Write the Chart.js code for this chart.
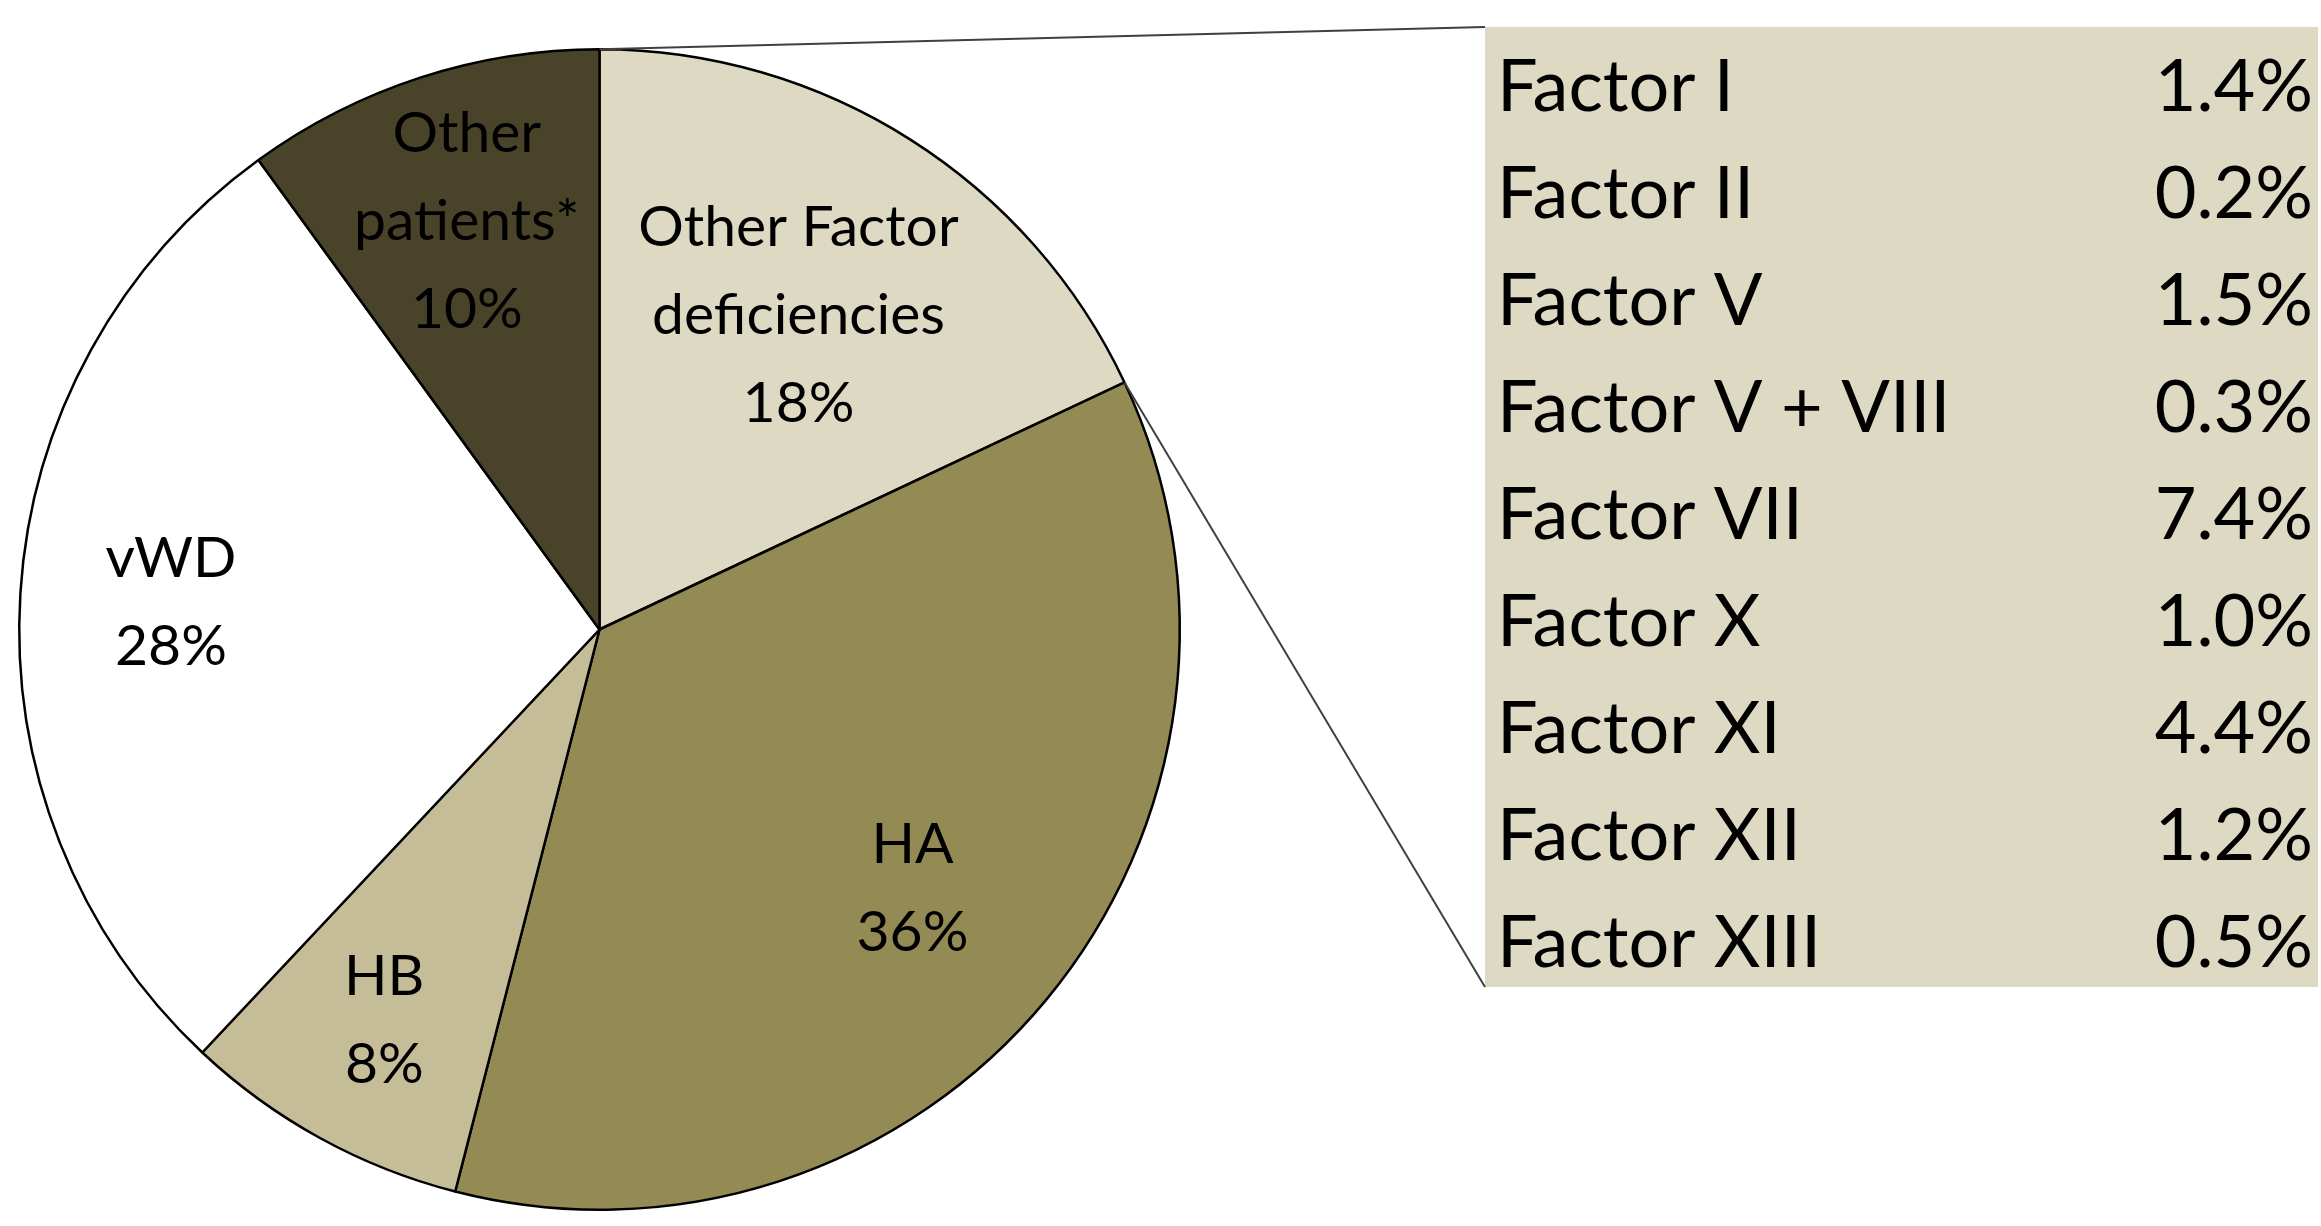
<!DOCTYPE html>
<html><head><meta charset="utf-8">
<script src="https://cdn.jsdelivr.net/npm/chart.js@4"></script>
<style>html,body{margin:0;padding:0;background:#fff}</style>
</head><body>
<canvas id="c" width="2321" height="1226"></canvas>
<script>
const categories = ["Other Factor\ndeficiencies", "HA", "HB", "vWD", "Other\npatients*"];
const values = [18, 36, 8, 28, 10];
const colors = ["#ddd9c3", "#948a54", "#c4bd97", "#ffffff", "#494429"];
const labelColors = ["#000", "#000", "#000", "#000", "#000"];
const factorNames = ["Factor I","Factor II","Factor V","Factor V + VIII","Factor VII","Factor X","Factor XI","Factor XII","Factor XIII"];
const factorValues = ["1.4%","0.2%","1.5%","0.3%","7.4%","1.0%","4.4%","1.2%","0.5%"];
const labelRadius = [0.64, 0.7, 0.77, 0.74, 0.74];

const plugin = {
  id: 'extras',
  afterDraw(chart) {
    const ctx = chart.ctx;
    const arcs = chart.getDatasetMeta(0).data;
    ctx.save();
    ctx.fillStyle = '#000';
    ctx.textAlign = 'center';
    ctx.textBaseline = 'middle';
    ctx.font = '57px Lato, "Open Sans", sans-serif';
    arcs.forEach((a, i) => {
      const mid = (a.startAngle + a.endAngle) / 2;
      const r = a.outerRadius * labelRadius[i];
      const x = a.x + r * Math.cos(mid), y = a.y + r * Math.sin(mid);
      const lines = (categories[i] + "\n" + values[i] + "%").split("\n");
      const lh = 88;
      lines.forEach((t, k) => ctx.fillText(t, x, y + (k - (lines.length - 1) / 2) * lh));
    });
    // table box
    const bx = 1485, by = 27, bw = 833, bh = 960;
    ctx.fillStyle = '#ddd9c3';
    ctx.fillRect(bx, by, bw, bh);
    ctx.fillStyle = '#000';
    ctx.font = '72px Lato, "Open Sans", sans-serif';
    const rowH = 107;
    factorNames.forEach((n, i) => {
      const y = 88 + i * rowH;
      ctx.textAlign = 'left';
      ctx.fillText(n, 1497, y);
      ctx.textAlign = 'right';
      ctx.fillText(factorValues[i], 2313, y);
    });
    // connector lines
    const a0 = arcs[0];
    ctx.strokeStyle = '#404040';
    ctx.lineWidth = 2;
    ctx.beginPath();
    ctx.moveTo(a0.x + a0.outerRadius * Math.cos(a0.startAngle), a0.y + a0.outerRadius * Math.sin(a0.startAngle));
    ctx.lineTo(bx, by);
    ctx.moveTo(a0.x + a0.outerRadius * Math.cos(a0.endAngle), a0.y + a0.outerRadius * Math.sin(a0.endAngle));
    ctx.lineTo(bx, by + bh);
    ctx.stroke();
    ctx.restore();
  }
};

new Chart(document.getElementById('c'), {
  type: 'pie',
  data: { labels: categories, datasets: [{ data: values, backgroundColor: colors, borderColor: '#000', borderWidth: 2.5, borderAlign: 'center' }] },
  options: {
    responsive: false, animation: false, devicePixelRatio: 1,
    layout: { padding: { left: 18, right: 1140, top: 48, bottom: 15 } },
    plugins: { legend: { display: false }, tooltip: { enabled: false } }
  },
  plugins: [plugin]
});
</script>
</body></html>
